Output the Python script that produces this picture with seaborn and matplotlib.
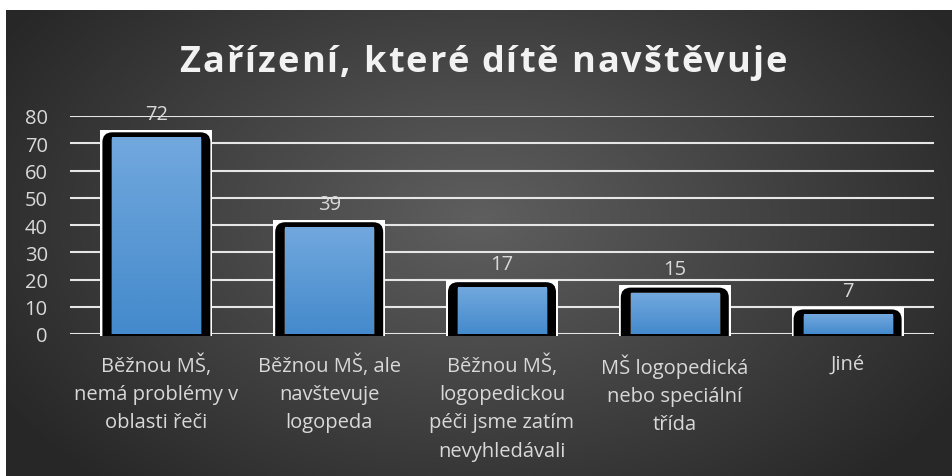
import numpy as np
import pandas as pd
import matplotlib
matplotlib.use("Agg")
import matplotlib.pyplot as plt
import seaborn as sns
from matplotlib.patches import FancyBboxPatch, Rectangle

# ---- data ----
categories = [
    "Běžnou MŠ,\nnemá problémy v\noblasti řeči",
    "Běžnou MŠ, ale\nnavštevuje\nlogopeda",
    "Běžnou MŠ,\nlogopedickou\npéči jsme zatím\nnevyhledávali",
    "MŠ logopedická\nnebo speciální\ntřída",
    "Jiné",
]
values = [72, 39, 17, 15, 7]
y_ticks = [0, 10, 20, 30, 40, 50, 60, 70, 80]
title = "Zařízení, které dítě navštěvuje"

sns.set_theme(style="dark")
plt.rcParams["font.family"] = ["Open Sans", "DejaVu Sans"]

W_PX, H_PX = 953, 477
fig = plt.figure(figsize=(W_PX / 100, H_PX / 100), dpi=100, facecolor="white")

# dark radial background
bg = fig.add_axes([6 / W_PX, 0, 947 / W_PX, 466 / H_PX])
bh, bw = 466, 947
yy, xx = np.mgrid[0:bh, 0:bw]
r = np.sqrt(((xx - 474) / 560) ** 2 + ((yy - 210) / 360) ** 2)
c = (0x5f - (0x5f - 0x27) * np.clip(r, 0, 1)) / 255
bg.imshow(np.dstack([c, c, c]), aspect="auto", extent=[0, 1, 0, 1], origin="upper")
bg.axis("off")

# plot area
ax_l, ax_r, ax_t, ax_b = 70, 934, 117, 335
ax = fig.add_axes([ax_l / W_PX, 1 - ax_b / H_PX, (ax_r - ax_l) / W_PX, (ax_b - ax_t) / H_PX])
ax.patch.set_alpha(0)

df = pd.DataFrame({"kategorie": categories, "pocet": values})
sns.barplot(data=df, x="kategorie", y="pocet", color="#5b9bd5", saturation=1,
            width=0.51, ax=ax, zorder=4)

ax.set_xlim(-0.5, len(values) - 0.5)
ax.set_ylim(0, 80)
px_x = (ax_r - ax_l) / len(values)
px_y = (ax_b - ax_t) / 80

grad = np.linspace(0, 1, 100)[:, None]
top_c = np.array([114, 168, 222]) / 255
bot_c = np.array([68, 138, 204]) / 255
grad_img = top_c[None, None, :] * (1 - grad[..., None]) + bot_c[None, None, :] * grad[..., None]

for p in ax.patches[:len(values)]:
    x0, w, h = p.get_x(), p.get_width(), p.get_height()
    cx = x0 + w / 2
    white = Rectangle((cx - 56 / px_x, -2 / px_y), 112 / px_x, h + 10 / px_y,
                      facecolor="white", edgecolor="none", zorder=2.5, clip_on=False)
    ax.add_patch(white)
    black = FancyBboxPatch((cx - 54 / px_x, -16 / px_y), 108 / px_x, h + 21.5 / px_y,
                           boxstyle=f"round,pad=0,rounding_size={10 / px_x}",
                           mutation_aspect=px_x / px_y,
                           facecolor="black", edgecolor="none", zorder=3)
    ax.add_patch(black)
    black.set_clip_box(None)
    black.set_clip_path(white)
    im = ax.imshow(grad_img, extent=[x0, x0 + w, 0, h], aspect="auto", zorder=5,
                   origin="upper")
    im.set_clip_on(False)

ax.set_xlim(-0.5, len(values) - 0.5)
ax.set_ylim(0, 80)
ax.set_aspect("auto")

ax.bar_label(ax.containers[0], padding=10, color="#d9d9d9", fontsize=14.5)

ax.set_yticks(y_ticks)
ax.yaxis.grid(True, color="#e6e6e6", linewidth=1.5, zorder=1)
ax.xaxis.grid(False)
ax.set_axisbelow(True)
for s in ax.spines.values():
    s.set_visible(False)
ax.tick_params(axis="y", length=0, pad=16, labelcolor="#d9d9d9", labelsize=14.5)
ax.tick_params(axis="x", length=0, pad=14, labelcolor="#d9d9d9", labelsize=14.5)
for lbl in ax.get_xticklabels():
    lbl.set_linespacing(1.55)
ax.set_xlabel("")
ax.set_ylabel("")

# title with letter spacing (drawn char by char)
renderer = fig.canvas.get_renderer()
tkw = dict(fontsize=26, fontweight="bold", color="#f2f2f2")
probe = fig.text(0, 0, "|", **tkw)
bar_w = probe.get_window_extent(renderer).width


def text_w(s):
    probe.set_text(s + "|")
    return probe.get_window_extent(renderer).width - bar_w


full_w = text_w(title)
gap = (607 - full_w) / (len(title) - 1)
left = 483 - 607 / 2
for i, ch in enumerate(title):
    fig.text((left + text_w(title[:i]) + i * gap) / W_PX, 1 - 72 / H_PX, ch,
             ha="left", va="baseline", **tkw)
probe.remove()

fig.savefig("out.png", dpi=100, facecolor="white")
